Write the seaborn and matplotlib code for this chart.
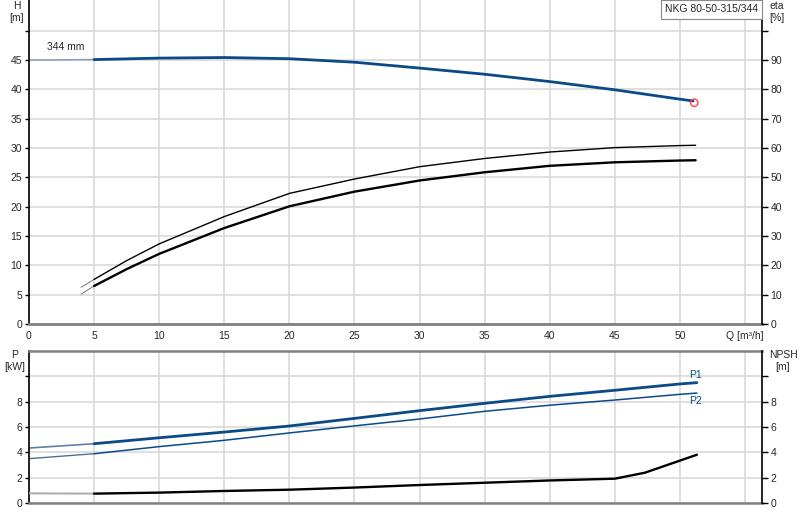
import matplotlib
matplotlib.use("Agg")
import matplotlib.pyplot as plt
import seaborn as sns
import pandas as pd
import numpy as np

sns.set_style("white")
plt.rcParams['font.family'] = ['Liberation Sans', 'DejaVu Sans']

# ---------------- data ----------------
q_head = [0, 5, 10, 15, 20, 25, 30, 35, 40, 45, 50, 51]
h_head = [44.95, 45.05, 45.3, 45.4, 45.2, 44.6, 43.6, 42.55, 41.3, 39.9, 38.3, 38.0]

q_eta = [4, 5, 7.5, 10, 15, 20, 25, 30, 35, 40, 45, 50, 51.2]
eta_upper = [12.5, 15.2, 21.6, 27.3, 36.6, 44.5, 49.4, 53.6, 56.4, 58.6, 60.1, 60.8, 60.9]
eta_lower = [10.2, 12.95, 18.7, 23.9, 32.7, 40.1, 45.1, 48.9, 51.7, 53.9, 55.1, 55.7, 55.8]

q_pow = [0, 5, 10, 15, 20, 25, 30, 35, 40, 45, 50, 51.3]
p1 = [4.34, 4.68, 5.15, 5.6, 6.08, 6.68, 7.29, 7.87, 8.42, 8.9, 9.4, 9.5]
p2 = [3.5, 3.89, 4.45, 4.95, 5.53, 6.09, 6.63, 7.24, 7.72, 8.13, 8.58, 8.68]

q_npsh = [0, 5, 10, 15, 20, 25, 30, 35, 40, 45, 47.3, 51.3]
npsh = [0.76, 0.74, 0.82, 0.95, 1.05, 1.22, 1.42, 1.6, 1.78, 1.92, 2.39, 3.81]

duty_q = [51.1]
duty_h = [37.7]

x_ticks = [0, 5, 10, 15, 20, 25, 30, 35, 40, 45, 50, 55]
x_ticklabels = ["0", "5", "10", "15", "20", "25", "30", "35", "40", "45", "50", "Q [m³/h]"]
h_ticks = [0, 5, 10, 15, 20, 25, 30, 35, 40, 45, 50]
h_ticklabels = ["0", "5", "10", "15", "20", "25", "30", "35", "40", "45", ""]
eta_ticks = [0, 10, 20, 30, 40, 50, 60, 70, 80, 90, 100]
eta_ticklabels = ["0", "10", "20", "30", "40", "50", "60", "70", "80", "90", ""]
p_ticks = [0, 2, 4, 6, 8, 10]
p_ticklabels = ["0", "2", "4", "6", "8", ""]

BLUE = "#0b4a87"
LIGHTBLUE = "#8aa2bd"
GRID = "#d9d9d9"
FS = 7.5

W, H = 800, 520
fig = plt.figure(figsize=(8, 5.2), dpi=100)

def frac(x0, y0, x1, y1):
    return [x0 / W, 1 - y1 / H, (x1 - x0) / W, (y1 - y0) / H]

ax_top = fig.add_axes(frac(29, 0, 762, 324))
ax_eta = ax_top.twinx()
ax_bot = fig.add_axes(frac(29, 351, 762, 503))
ax_npsh = ax_bot.twinx()

XMAX = 56.3

def seg(qs, vs, lo, hi):
    df = pd.DataFrame({"Q": qs, "V": vs})
    return df[(df.Q >= lo) & (df.Q <= hi)]

# ---- top: head ----
sns.lineplot(data=seg(q_head, h_head, 0, 5), x="Q", y="V", ax=ax_top, color=LIGHTBLUE,
             lw=1.2, sort=False, estimator=None)
sns.lineplot(data=seg(q_head, h_head, 5, 60), x="Q", y="V", ax=ax_top, color=BLUE,
             lw=2.0, sort=False, estimator=None)
sns.scatterplot(x=duty_q, y=duty_h, ax=ax_top, marker="o", s=28, facecolor="none",
                edgecolor="#ff4040", linewidth=1.0, zorder=5)

# ---- efficiency on right axis ----
sns.lineplot(data=seg(q_eta, eta_upper, 0, 5), x="Q", y="V", ax=ax_eta, color="#777777",
             lw=0.7, sort=False, estimator=None)
sns.lineplot(data=seg(q_eta, eta_upper, 5, 60), x="Q", y="V", ax=ax_eta, color="black",
             lw=1.0, sort=False, estimator=None)
sns.lineplot(data=seg(q_eta, eta_lower, 0, 5), x="Q", y="V", ax=ax_eta, color="#777777",
             lw=0.7, sort=False, estimator=None)
sns.lineplot(data=seg(q_eta, eta_lower, 5, 60), x="Q", y="V", ax=ax_eta, color="black",
             lw=1.7, sort=False, estimator=None)

# ---- bottom: power ----
sns.lineplot(data=seg(q_pow, p1, 0, 5), x="Q", y="V", ax=ax_bot, color="#5f7fa6",
             lw=1.2, sort=False, estimator=None)
sns.lineplot(data=seg(q_pow, p1, 5, 60), x="Q", y="V", ax=ax_bot, color=BLUE,
             lw=2.0, sort=False, estimator=None)
sns.lineplot(data=seg(q_pow, p2, 0, 5), x="Q", y="V", ax=ax_bot, color="#4f6f9a",
             lw=1.0, sort=False, estimator=None)
sns.lineplot(data=seg(q_pow, p2, 5, 60), x="Q", y="V", ax=ax_bot, color=BLUE,
             lw=1.1, sort=False, estimator=None)
# NPSH on right axis
sns.lineplot(data=seg(q_npsh, npsh, 0, 5), x="Q", y="V", ax=ax_npsh, color="#aaaaaa",
             lw=1.4, sort=False, estimator=None)
sns.lineplot(data=seg(q_npsh, npsh, 5, 60), x="Q", y="V", ax=ax_npsh, color="black",
             lw=1.7, sort=False, estimator=None)

# ---------------- axes styling ----------------
for a in (ax_top, ax_eta, ax_bot, ax_npsh):
    a.set_xlim(0, XMAX)
    a.set_xlabel("")
    a.set_ylabel("")
    for s in a.spines.values():
        s.set_visible(False)

ax_top.set_ylim(0, 55.2)
ax_eta.set_ylim(0, 110.4)
ax_bot.set_ylim(0, 12)
ax_npsh.set_ylim(0, 12)

# grid
ax_top.set_xticks(x_ticks)
ax_top.set_yticks(h_ticks)
ax_top.grid(True, color=GRID, lw=1.2)
ax_top.set_axisbelow(True)
ax_bot.set_xticks(x_ticks)
ax_bot.set_yticks(p_ticks + [12])
ax_bot.grid(True, color=GRID, lw=1.2)
ax_bot.set_axisbelow(True)

ax_top.set_xticklabels(x_ticklabels, fontsize=FS)
ax_top.set_yticklabels(h_ticklabels, fontsize=FS)
ax_top.tick_params(axis="x", direction="out", length=3, width=1, color="#555555", pad=2)
ax_top.tick_params(axis="y", direction="out", length=3, width=1, color="black", pad=2)

ax_eta.set_yticks(eta_ticks)
ax_eta.set_yticklabels(eta_ticklabels, fontsize=FS)
ax_eta.tick_params(axis="y", direction="out", length=4, width=1, color="black", pad=2)

ax_bot.set_yticklabels(p_ticklabels + [""], fontsize=FS)
ax_bot.tick_params(axis="x", length=0, labelbottom=False)
ax_bot.tick_params(axis="y", direction="out", length=3, width=1, color="black", pad=2)
ax_npsh.set_yticks(p_ticks)
ax_npsh.set_yticklabels(p_ticklabels, fontsize=FS)
ax_npsh.tick_params(axis="y", direction="out", length=4, width=1, color="black", pad=2)

ax_bot.yaxis.get_major_ticks()[-1].tick1line.set_visible(False)

# spines
ax_top.spines["left"].set_visible(True)
ax_top.spines["left"].set_color("black")
ax_top.spines["left"].set_linewidth(1.2)
ax_top.spines["bottom"].set_visible(True)
ax_top.spines["bottom"].set_color("#808080")
ax_top.spines["bottom"].set_linewidth(2)
ax_eta.spines["right"].set_visible(True)
ax_eta.spines["right"].set_color("black")
ax_eta.spines["right"].set_linewidth(1.2)

ax_bot.spines["left"].set_visible(True)
ax_bot.spines["left"].set_color("black")
ax_bot.spines["left"].set_linewidth(1.2)
for side in ("top", "bottom"):
    ax_bot.spines[side].set_visible(True)
    ax_bot.spines[side].set_color("#808080")
    ax_bot.spines[side].set_linewidth(1.8)
ax_npsh.spines["right"].set_visible(True)
ax_npsh.spines["right"].set_color("black")
ax_npsh.spines["right"].set_linewidth(1.2)

for a in (ax_top, ax_eta, ax_bot, ax_npsh):
    if a.get_legend():
        a.get_legend().remove()

# ---------------- texts ----------------
def ftext(x, y, s, **kw):
    fig.text(x / W, 1 - y / H, s, fontsize=FS, **kw)

ftext(17, 1, "H\n[m]", ha="center", va="top", linespacing=1.3)
ftext(777, 1, "eta\n[%]", ha="center", va="top", linespacing=1.3)
ftext(15, 350, "P\n[kW]", ha="center", va="top", linespacing=1.3)
ftext(783, 350, "NPSH\n[m]", ha="center", va="top", linespacing=1.3)

ax_top.text(1.35, 46.3, "344 mm", fontsize=FS, ha="left", va="bottom")
ax_bot.text(51.2, 9.75, "P1", fontsize=FS, color=BLUE, ha="center", va="bottom")
ax_bot.text(51.2, 8.45, "P2", fontsize=FS, color=BLUE, ha="center", va="top")

fig.text(758 / W, 1 - 9.5 / H, "NKG 80-50-315/344", fontsize=FS, ha="right", va="center",
         bbox=dict(boxstyle="square,pad=0.4", facecolor="white", edgecolor="#888888", lw=0.8))

fig.savefig("out.png", dpi=100)
